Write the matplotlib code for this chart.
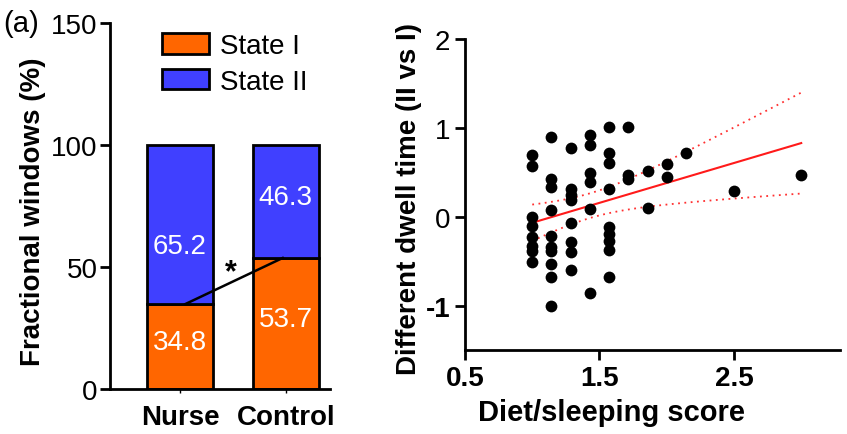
import numpy as np
import matplotlib
matplotlib.use("Agg")
import matplotlib.pyplot as plt
from matplotlib.patches import Patch

plt.rcParams["font.family"] = ["Liberation Sans", "DejaVu Sans"]

# --- panel (a): stacked fractions ---
groups = ["Nurse", "Control"]
state1 = [34.8, 53.7]
state2 = [65.2, 46.3]

# --- scatter: diet/sleeping score vs dwell time difference ---
score = [1.0] * 8 + [1.14] * 10 + [1.29] * 8 + [1.43] * 6 + [1.57] * 9 \
    + [1.71, 1.71, 1.71, 1.86, 1.86, 2.0, 2.0, 2.14, 2.5, 3.0]
dwell = [0.70, 0.57, 0.0, -0.10, -0.23, -0.33, -0.38, -0.51,
         0.90, 0.43, 0.33, 0.08, -0.22, -0.34, -0.38, -0.53, -0.68, -1.0,
         0.77, 0.31, 0.25, 0.19, -0.07, -0.28, -0.40, -0.60,
         0.92, 0.81, 0.49, 0.39, 0.09, -0.86,
         1.01, 0.72, 0.60, 0.31, -0.12, -0.19, -0.27, -0.37, -0.68,
         1.01, 0.47, 0.43, 0.51, 0.10, 0.59, 0.45, 0.72, 0.29, 0.47]

ORANGE = "#FF6600"
BLUE = "#4040FF"

fig = plt.figure(figsize=(8.47, 4.35), dpi=100)

# ---------------- left ----------------
ax = fig.add_axes([0.130, 0.1034, 0.260, 0.8416])
xpos = np.arange(len(groups))
w = 0.63
ax.bar(xpos, state1, w, color=ORANGE, edgecolor="black", linewidth=2)
ax.bar(xpos, state2, w, bottom=state1, color=BLUE, edgecolor="black", linewidth=2)
for i in range(len(groups)):
    ax.text(xpos[i], state1[i] / 2 + 2, f"{state1[i]:.1f}", color="white",
            ha="center", va="center", fontsize=20)
    ax.text(xpos[i], state1[i] + state2[i] / 2 - (9 if i == 0 else -2),
            f"{state2[i]:.1f}", color="white", ha="center", va="center", fontsize=20)
ax.plot(xpos + np.array([0.05, -0.03]), state1, color="black", linewidth=1.8)
ax.text(xpos.mean() - 0.02, 48, "*", ha="center", va="center",
        fontsize=22, fontweight="bold")

ax.set_xlim(-0.66, 1.42)
ax.set_ylim(0, 150)
ax.set_yticks([0, 50, 100, 150])
ax.set_xticks(xpos)
ax.set_xticklabels(groups, fontweight="bold", fontsize=20)
ax.set_ylabel("Fractional windows (%)", fontweight="bold", fontsize=20)
ax.yaxis.set_label_coords(-0.29, 0.487)
for s in ["top", "right"]:
    ax.spines[s].set_visible(False)
for s in ["left", "bottom"]:
    ax.spines[s].set_linewidth(2)
ax.tick_params(axis="y", width=2, length=7, labelsize=20, pad=2)
ax.tick_params(axis="x", width=1, length=3, pad=8)
leg = ax.legend(handles=[Patch(facecolor=ORANGE, edgecolor="black", linewidth=2, label="State I"),
                         Patch(facecolor=BLUE, edgecolor="black", linewidth=2, label="State II")],
                loc="upper left", bbox_to_anchor=(0.12, 1.04), frameon=False,
                fontsize=20, handlelength=1.7, handleheight=0.75,
                handletextpad=0.4, labelspacing=0.35)
fig.text(0.004, 0.945, "(a)", fontsize=21, va="center", ha="left")

# ---------------- right ----------------
ax2 = fig.add_axes([0.549, 0.193, 0.443, 0.715])
x = np.array(score)
y = np.array(dwell)
ax2.scatter(x, y, s=72, color="black", zorder=3, linewidths=0)

slope, icpt = np.polyfit(x, y, 1)
n = len(x)
resid = y - (slope * x + icpt)
se = np.sqrt(np.sum(resid ** 2) / (n - 2))
xx = np.linspace(x.min(), x.max(), 100)
yy = slope * xx + icpt
band = 2.01 * se * np.sqrt(1 / n + (xx - x.mean()) ** 2 / np.sum((x - x.mean()) ** 2))
ax2.plot(xx, yy, color="#FF1A1A", linewidth=1.5)
ax2.plot(xx, yy + band, color="#FF3030", linewidth=1.3, linestyle=(0, (1, 2.5)))
ax2.plot(xx, yy - band, color="#FF3030", linewidth=1.3, linestyle=(0, (1, 2.5)))

ax2.set_xlim(0.5, 3.29)
ax2.set_ylim(-1.5, 2)
ax2.set_xticks([0.5, 1.5, 2.5])
ax2.set_xticklabels(["0.5", "1.5", "2.5"], fontweight="bold", fontsize=20)
ax2.set_yticks([-1, 0, 1, 2])
ax2.set_yticklabels(["-1", "0", "1", "2"], fontsize=20)
ax2.get_yticklabels()[0].set_fontweight("bold")
ax2.set_xlabel("Diet/sleeping score", fontweight="bold", fontsize=21)
ax2.xaxis.set_label_coords(0.39, -0.155)
ax2.set_ylabel("Different dwell time (II vs I)", fontweight="bold", fontsize=20)
ax2.yaxis.set_label_coords(-0.115, 0.49)
for s in ["top", "right"]:
    ax2.spines[s].set_visible(False)
for s in ["left", "bottom"]:
    ax2.spines[s].set_linewidth(2)
ax2.tick_params(width=2, length=7)

fig.savefig("out.png", dpi=100)
